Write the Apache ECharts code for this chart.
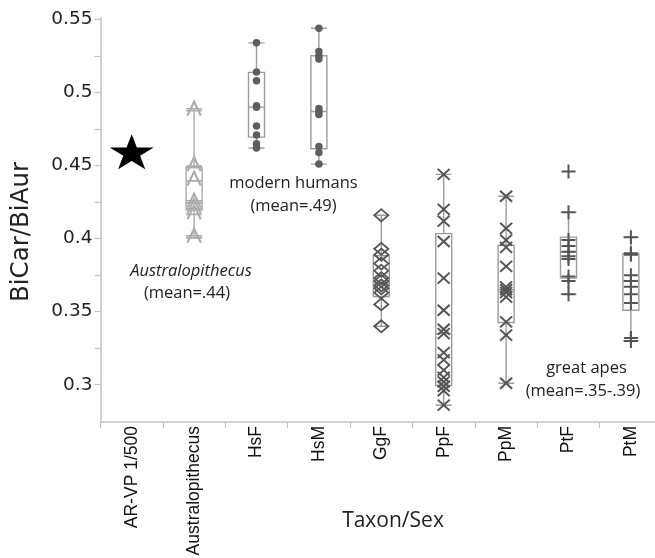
<!DOCTYPE html>
<html><head><meta charset="utf-8">
<script src="https://cdn.jsdelivr.net/npm/echarts@6/dist/echarts.min.js"></script>
<style>html,body{margin:0;padding:0;background:#fff}#c{width:655px;height:558px}</style>
</head><body><div id="c"></div>
<script>
// ---- data ----
const categories = ['AR-VP 1/500','Australopithecus','HsF','HsM','GgF','PpF','PpM','PtF','PtM'];

const arvp = [0.4595];
const australopithecus = [0.489, 0.451, 0.441, 0.426, 0.422, 0.418, 0.402];
const hsF = [0.534, 0.514, 0.508, 0.491, 0.490, 0.477, 0.471, 0.465, 0.462];
const hsM = [0.544, 0.528, 0.525, 0.523, 0.489, 0.487, 0.485, 0.463, 0.459, 0.451];
const ggF = [0.416, 0.393, 0.389, 0.383, 0.378, 0.373, 0.371, 0.368, 0.366, 0.363, 0.355, 0.340];
const ppF = [0.444, 0.420, 0.412, 0.398, 0.373, 0.351, 0.338, 0.335, 0.322, 0.317, 0.310, 0.305, 0.302, 0.299, 0.296, 0.286];
const ppM = [0.429, 0.407, 0.399, 0.394, 0.381, 0.367, 0.365, 0.363, 0.360, 0.343, 0.334, 0.301];
const ptF = [0.446, 0.418, 0.399, 0.395, 0.391, 0.388, 0.386, 0.374, 0.371, 0.362];
const ptM = [0.401, 0.390, 0.389, 0.375, 0.371, 0.367, 0.362, 0.356, 0.332, 0.330];

// box stats: [min, Q1, median, Q3, max]
const boxAustralopithecus = [0.402, 0.4195, 0.426, 0.4485, 0.489];
const boxHsF = [0.462, 0.4695, 0.490, 0.5138, 0.534];
const boxHsM = [0.451, 0.4615, 0.487, 0.5252, 0.544];
const boxGgF = [0.340, 0.3604, 0.370, 0.3883, 0.416];
const boxPpF = [0.286, 0.2995, 0.335, 0.4034, 0.444];
const boxPpM = [0.301, 0.3426, 0.365, 0.3955, 0.429];
const boxPtF = [0.362, 0.373, 0.391, 0.401, 0.418];
const boxPtM = [0.330, 0.351, 0.371, 0.3897, 0.401];

const yTickValues = [0.3, 0.325, 0.35, 0.375, 0.4, 0.425, 0.45, 0.475, 0.5, 0.525, 0.55];
const yLabelValues = [0.3, 0.35, 0.4, 0.45, 0.5, 0.55];

// ---- chart ----
const STAR = 'path://M50,0 L61.2,34.5 L97.6,34.5 L68.2,55.9 L79.4,90.5 L50,69.1 L20.6,90.5 L31.8,55.9 L2.4,34.5 L38.8,34.5 Z';
const ATRI = 'path://M2,20 L12,0 L22,20 M0,13 L24,13';
const XMARK = 'path://M0,0 L20,20 M20,0 L0,20';
const PLUS = 'path://M10,0 L10,20 M0,10 L20,10';

const DARK = '#555555';
const LIGHT = '#ababab';
const BOXC = '#9c9c9c';

function pts(cat, vals){ return vals.map(v => [cat, v]); }
function scatter(cat, vals, symbol, size, style){
  return { type:'scatter', data: pts(cat, vals), symbol, symbolSize: size,
           itemStyle: Object.assign({ opacity:1 }, style), z: 5, silent: true, animation:false };
}
const strokeStyle = (c, w) => ({ color:'rgba(0,0,0,0)', borderColor:c, borderWidth:w });

const boxData = [
  ['-','-','-','-','-'],
  { value: boxAustralopithecus, itemStyle:{ borderColor: LIGHT } },
  boxHsF, boxHsM, boxGgF, boxPpF, boxPpM, boxPtF, boxPtM
];

const chart = echarts.init(document.getElementById('c'), null, {renderer:'canvas'});
chart.setOption({
  animation:false,
  grid:{ left:100.5, top:18, width:561.6, height:404, outerBoundsMode:'none', containLabel:false },
  xAxis:{
    type:'category', data:categories, boundaryGap:true,
    axisLine:{ lineStyle:{ color:'#c4c4c4', width:1.5 } },
    axisTick:{ show:true, length:6, inside:false, lineStyle:{ color:'#c4c4c4', width:1.2 } },
    axisLabel:{ rotate:90, margin:4, fontSize:17.5, fontFamily:'Liberation Sans', color:'#111', interval:0 },
    splitLine:{ show:false }
  },
  yAxis:{
    type:'value', min:0.2745, max:0.551,
    axisLine:{ show:true, lineStyle:{ color:'#c4c4c4', width:1.5 } },
    axisTick:{ show:true, length:6, customValues: yTickValues, lineStyle:{ color:'#c4c4c4', width:1.2 } },
    axisLabel:{ customValues: yLabelValues, margin:8, fontSize:18.5, fontFamily:'DejaVu Sans', color:'#222',
      formatter: v => String(+(+v).toFixed(3)) },
    splitLine:{ show:false }
  },
  series:[
    { type:'boxplot', data: boxData, boxWidth:[16,16], silent:true,
      itemStyle:{ color:'rgba(0,0,0,0)', borderColor:BOXC, borderWidth:1.4 } },
    scatter(categories[0], arvp, STAR, [44,35], { color:'#000' }),
    scatter(categories[1], australopithecus, ATRI, [16,14], strokeStyle(LIGHT, 2)),
    scatter(categories[2], hsF, 'circle', 7.5, { color:'#5e5e5e' }),
    scatter(categories[3], hsM, 'circle', 7.5, { color:'#5e5e5e' }),
    scatter(categories[4], ggF, 'diamond', [14,12], strokeStyle(DARK, 1.8)),
    scatter(categories[5], ppF, XMARK, [12,11], strokeStyle(DARK, 2)),
    scatter(categories[6], ppM, XMARK, [12,11], strokeStyle(DARK, 2)),
    scatter(categories[7], ptF, PLUS, [14,14], strokeStyle(DARK, 2)),
    scatter(categories[8], ptM, PLUS, [14,14], strokeStyle(DARK, 2))
  ],
  graphic:[
    { type:'text', x:22, y:232, rotation:Math.PI/2, silent:true,
      style:{ text:'BiCar/BiAur', fontSize:24.5, fontFamily:'DejaVu Sans', fill:'#222', align:'center', verticalAlign:'middle' } },
    { type:'text', x:393, y:521, silent:true,
      style:{ text:'Taxon/Sex', fontSize:21, fontFamily:'Open Sans', fill:'#222', align:'center', verticalAlign:'middle' } },
    { type:'text', x:293.5, y:183, silent:true,
      style:{ text:'modern humans', fontSize:16.5, fontFamily:'Open Sans', fill:'#222', align:'center', verticalAlign:'middle' } },
    { type:'text', x:293.5, y:206.5, silent:true,
      style:{ text:'(mean=.49)', fontSize:16.5, fontFamily:'Open Sans', fill:'#222', align:'center', verticalAlign:'middle' } },
    { type:'text', x:191, y:271, silent:true,
      style:{ text:'Australopithecus', fontSize:16.5, fontStyle:'italic', fontFamily:'Open Sans', fill:'#222', align:'center', verticalAlign:'middle' } },
    { type:'text', x:187, y:293, silent:true,
      style:{ text:'(mean=.44)', fontSize:16.5, fontFamily:'Open Sans', fill:'#222', align:'center', verticalAlign:'middle' } },
    { type:'text', x:586.5, y:368, silent:true,
      style:{ text:'great apes', fontSize:16.5, fontFamily:'Open Sans', fill:'#222', align:'center', verticalAlign:'middle' } },
    { type:'text', x:583, y:391, silent:true,
      style:{ text:'(mean=.35-.39)', fontSize:16.5, fontFamily:'Open Sans', fill:'#222', align:'center', verticalAlign:'middle' } }
  ]
});
</script>
</body></html>
